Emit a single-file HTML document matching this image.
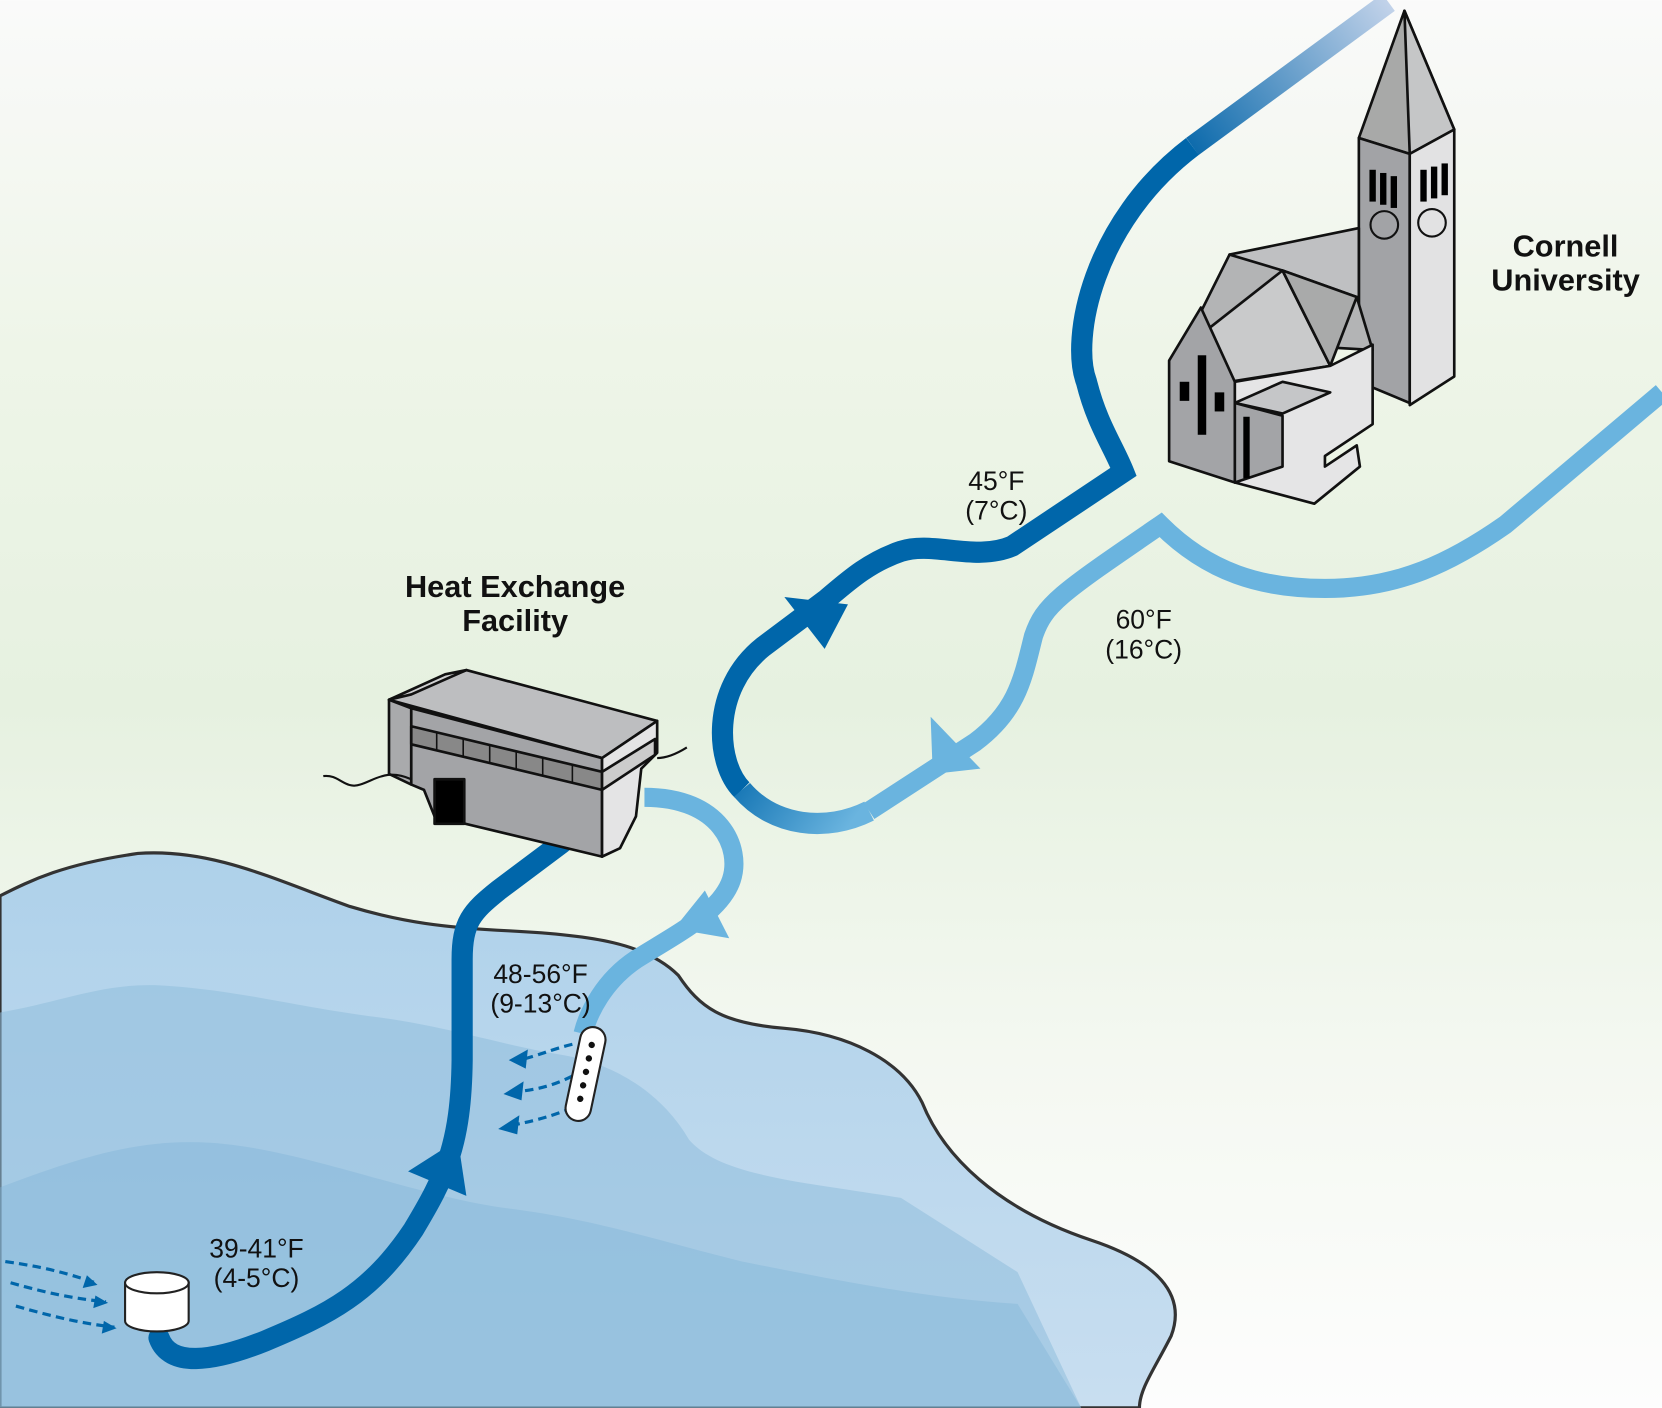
<!DOCTYPE html>
<html><head><meta charset="utf-8"><style>
html,body{margin:0;padding:0;width:1662px;height:1408px;overflow:hidden;background:#fff}
svg{display:block}
text{font-family:"Liberation Sans",Arial,sans-serif}
</style></head><body>
<svg width="1662" height="1408" viewBox="0 0 1568 1328" xmlns="http://www.w3.org/2000/svg">
<defs>
<linearGradient id="bg" x1="0" y1="0" x2="0" y2="1">
<stop offset="0" stop-color="#fafafa"/><stop offset="0.25" stop-color="#eef5e8"/><stop offset="0.5" stop-color="#e6f1e0"/><stop offset="0.75" stop-color="#f4f8f1"/><stop offset="1" stop-color="#fdfdfd"/>
</linearGradient>
<linearGradient id="lake" x1="0" y1="0" x2="0" y2="1">
<stop offset="0" stop-color="#aed1ea"/><stop offset="1" stop-color="#c8def0"/>
</linearGradient>
<linearGradient id="topPipe" x1="1310" y1="0" x2="1120" y2="140" gradientUnits="userSpaceOnUse">
<stop offset="0" stop-color="#c3d3ea"/><stop offset="1" stop-color="#0a69ab"/>
</linearGradient>
<linearGradient id="loopG" x1="690" y1="700" x2="800" y2="780" gradientUnits="userSpaceOnUse">
<stop offset="0" stop-color="#0066aa"/><stop offset="1" stop-color="#6ab4df"/>
</linearGradient>
</defs>
<rect width="1568" height="1328" fill="url(#bg)"/>
<path d="M0,845 C30,830 60,815 130,805 C200,800 260,830 330,855 C380,870 420,875 480,878 C560,882 610,890 640,920 C660,950 680,965 740,970 C800,975 850,1000 870,1040 C890,1090 940,1140 1030,1170 C1090,1190 1120,1220 1105,1260 C1090,1290 1075,1310 1075,1328 L0,1328 Z" fill="url(#lake)" stroke="#333" stroke-width="3"/>
<path d="M0,955 C60,945 100,925 160,930 C230,935 280,950 360,960 C430,970 470,985 530,995 C590,1005 630,1040 650,1075 C680,1110 760,1115 850,1130 L960,1200 L1020,1328 L0,1328 Z" fill="#8fbedd" opacity="0.55"/>
<path d="M0,1120 C80,1090 140,1070 220,1080 C300,1090 400,1130 480,1140 C560,1150 620,1170 700,1190 C800,1210 880,1225 960,1230 L1020,1328 L0,1328 Z" fill="#7fb3d6" opacity="0.4"/>
<path d="M150,1262 C160,1290 200,1285 250,1265 C310,1240 350,1220 390,1160 C420,1110 435,1080 436,1000 L436,905 C436,870 445,860 470,840 L530,795" fill="none" stroke="#0066aa" stroke-width="20" stroke-linecap="round"/>
<polygon points="385,1105 440,1128 432,1075" fill="#0066aa"/>
<path d="M608,752 C680,752 700,800 690,830 C680,860 640,880 600,905 C570,925 555,955 550,975" fill="none" stroke="#6ab4df" stroke-width="18"/>
<polygon points="636,876 688,885 665,840" fill="#6ab4df"/>
<path d="M1310,2 L1125,138" fill="none" stroke="url(#topPipe)" stroke-width="20"/>
<path d="M1125,138 C1030,210 1010,320 1025,360 C1035,400 1050,420 1060,445 L955,515 C920,530 880,510 850,520 C820,530 800,548 780,565 L720,610 C670,650 675,720 700,745" fill="none" stroke="#0066aa" stroke-width="20"/>
<path d="M700,745 C730,780 780,785 820,765" fill="none" stroke="url(#loopG)" stroke-width="20"/>
<polygon points="740,563 800,570 778,612" fill="#0066aa"/>
<path d="M820,765 L920,700 C960,670 965,640 975,600 C985,570 1000,560 1095,495 C1140,540 1190,555 1250,555 C1320,555 1370,530 1420,495 L1568,370" fill="none" stroke="#6ab4df" stroke-width="18"/>
<polygon points="878,676 925,725 880,730" fill="#6ab4df"/>
<g stroke="#0066aa" stroke-width="3" stroke-dasharray="8,5" fill="none">
<path d="M5,1190 C40,1195 60,1200 90,1210"/><path d="M10,1210 C45,1220 70,1225 100,1228"/><path d="M15,1232 C50,1242 75,1248 108,1252"/>
</g>
<polygon points="82,1203 92,1212 78,1215" fill="#0066aa"/><polygon points="90,1222 102,1229 88,1234" fill="#0066aa"/><polygon points="98,1246 110,1253 96,1258" fill="#0066aa"/>
<path d="M118,1210 L118,1246 A30,10 0 0 0 178,1246 L178,1210 Z" fill="#fff" stroke="#222" stroke-width="2"/>
<ellipse cx="148" cy="1210" rx="30" ry="10" fill="#fff" stroke="#222" stroke-width="2"/>
<g stroke="#0066aa" stroke-width="3" stroke-dasharray="8,5" fill="none">
<path d="M540,985 C520,990 510,995 490,1000"/><path d="M540,1015 C520,1025 505,1028 485,1030"/><path d="M540,1045 C515,1055 500,1058 480,1062"/>
</g>
<polygon points="480,1000 498,990 496,1008" fill="#0066aa"/><polygon points="475,1032 494,1020 492,1038" fill="#0066aa"/><polygon points="470,1065 490,1052 488,1070" fill="#0066aa"/>
<g transform="rotate(12 552 1015)">
<rect x="540" y="968" width="24" height="90" rx="12" fill="#fff" stroke="#222" stroke-width="2"/>
<g fill="#111"><circle cx="552" cy="985" r="3"/><circle cx="552" cy="998" r="3"/><circle cx="552" cy="1011" r="3"/><circle cx="552" cy="1024" r="3"/><circle cx="552" cy="1037" r="3"/></g>
</g>
<g stroke="#111" stroke-width="2.5" stroke-linejoin="round">
<polygon points="367,660 440,632 620,680 568,715" fill="#bdbec0"/>
<polygon points="367,660 388,668 388,740 367,730" fill="#a9aaac"/>
<polygon points="388,668 568,715 568,808 410,770 400,745 388,740" fill="#a3a4a7"/>
<polygon points="568,715 620,680 620,710 605,725 600,770 585,800 568,808" fill="#e4e4e5"/>
<polygon points="367,660 420,636 440,632 388,655" fill="#d0d1d2"/>
<polygon points="388,685 568,728 568,745 388,702" fill="#888"/>
<polygon points="568,728 618,697 618,712 568,745" fill="#ccc"/>
<rect x="410" y="735" width="28" height="42" fill="#000"/>
</g>
<g stroke="#111" stroke-width="1.5"><line x1="412" y1="690" x2="412" y2="707"/><line x1="437" y1="696" x2="437" y2="713"/><line x1="462" y1="702" x2="462" y2="719"/><line x1="487" y1="708" x2="487" y2="725"/><line x1="512" y1="714" x2="512" y2="731"/><line x1="540" y1="721" x2="540" y2="738"/></g>
<path d="M305,732 C320,730 325,745 340,740 C355,735 365,725 388,735" fill="none" stroke="#111" stroke-width="2"/>
<path d="M620,715 C630,715 640,710 648,705" fill="none" stroke="#111" stroke-width="2"/>
<g stroke="#111" stroke-width="2.5" stroke-linejoin="round">
<polygon points="1282,130 1325,10 1372,122 1330,145" fill="#a8a9a8"/>
<polygon points="1325,10 1372,122 1330,145" fill="#c5c6c7"/>
<polygon points="1282,130 1330,145 1330,380 1282,360" fill="#a2a3a6"/>
<polygon points="1330,145 1372,122 1372,355 1330,382" fill="#e2e2e3"/>
<polygon points="1160,240 1282,215 1282,300 1180,310" fill="#bfc0c2"/>
<polygon points="1120,320 1160,240 1210,255 1280,280 1295,330" fill="#b3b4b5"/>
<polygon points="1140,310 1210,255 1255,345 1160,360" fill="#c9cacb"/>
<polygon points="1210,255 1280,280 1255,345" fill="#a9aaaa"/>
<polygon points="1103,340 1133,290 1165,360 1165,455 1103,435" fill="#a3a4a7"/>
<polygon points="1165,360 1255,345 1295,325 1295,400 1250,430 1250,440 1280,420 1283,440 1240,475 1165,455" fill="#e5e5e6"/>
<polygon points="1165,380 1210,360 1255,370 1210,390" fill="#c5c6c8"/>
<polygon points="1165,380 1210,392 1210,440 1165,455" fill="#a3a4a7"/>
</g>
<g fill="#000">
<rect x="1292" y="160" width="6" height="30"/><rect x="1302" y="163" width="6" height="30"/><rect x="1312" y="166" width="6" height="30"/>
<rect x="1340" y="160" width="6" height="30"/><rect x="1350" y="157" width="6" height="30"/><rect x="1360" y="154" width="6" height="30"/>
<rect x="1113" y="360" width="9" height="18"/><rect x="1146" y="370" width="9" height="18"/>
<rect x="1130" y="335" width="8" height="75"/><rect x="1173" y="393" width="6" height="58"/>
</g>
<circle cx="1306" cy="212" r="13" fill="none" stroke="#111" stroke-width="2"/>
<circle cx="1351" cy="210" r="13" fill="none" stroke="#111" stroke-width="2"/>
<g font-weight="bold" font-size="29" fill="#111" text-anchor="middle">
<text x="486" y="563">Heat Exchange</text><text x="486" y="595">Facility</text>
<text x="1477" y="242">Cornell</text><text x="1477" y="274">University</text>
</g>
<g font-size="25" fill="#111" text-anchor="middle">
<text x="940" y="462">45°F</text><text x="940" y="490">(7°C)</text>
<text x="1079" y="593">60°F</text><text x="1079" y="621">(16°C)</text>
<text x="510" y="927">48-56°F</text><text x="510" y="955">(9-13°C)</text>
<text x="242" y="1186">39-41°F</text><text x="242" y="1214">(4-5°C)</text>
</g>
</svg>
</body></html>
